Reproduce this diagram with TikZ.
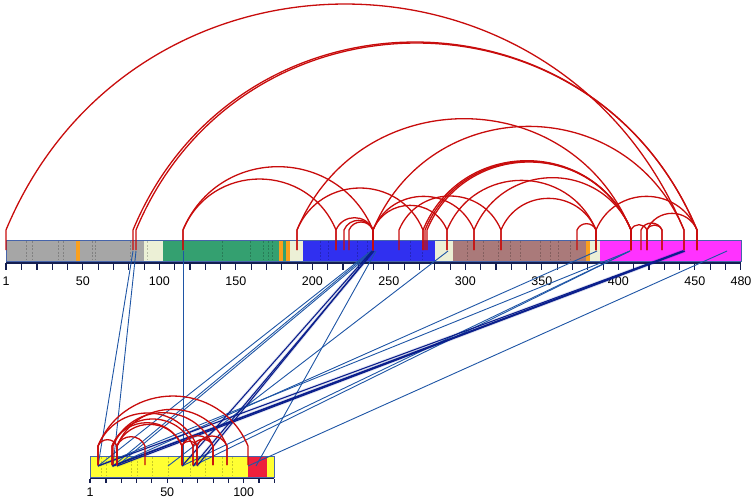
\documentclass[tikz,border=0pt]{standalone}
\usepackage{fontspec}
\setmainfont{Liberation Sans}
\definecolor{linkred}{RGB}{200,12,12}
\definecolor{linkblue}{RGB}{30,85,165}
\definecolor{bundleblue}{RGB}{10,30,140}
\definecolor{frameblue}{RGB}{70,100,170}
\definecolor{axisblue}{RGB}{20,30,80}
\definecolor{cgray}{RGB}{166,166,166}
\definecolor{corange}{RGB}{250,160,30}
\definecolor{cbeige}{RGB}{236,240,214}
\definecolor{cgreen}{RGB}{52,160,112}
\definecolor{cblue}{RGB}{48,48,240}
\definecolor{cbrown}{RGB}{170,122,122}
\definecolor{cmagenta}{RGB}{255,50,255}
\definecolor{cyellow}{RGB}{255,255,50}
\definecolor{cred}{RGB}{238,32,60}
\begin{document}
\begin{tikzpicture}[x=1pt,y=-1pt,
  xlink/.style={draw=linkred,line width=1.3pt,line join=round},
  ilink/.style={draw=linkblue,line width=0.9pt},
  bundle/.style={draw=bundleblue,line width=1.1pt},
  halo/.style={draw=bundleblue,line width=3pt,opacity=0.10},
  barframe/.style={draw=frameblue,line width=1pt},
  axisline/.style={draw=axisblue,line width=1.1pt},
  pepline/.style={draw=black,opacity=0.22,dashed,line width=0.6pt,dash pattern=on 2pt off 1.5pt},
  lbl/.style={font=\fontsize{12.5}{14}\selectfont,inner sep=0pt}]
\useasboundingbox (0,0) rectangle (754,499);

% ---------------- top protein bar ----------------
\fill[cgray]    (6,240) rectangle (144,261);
\fill[corange]  (76,240) rectangle (80,261);
\fill[cbeige]   (144,240) rectangle (163,261);
\fill[cgreen]   (163,240) rectangle (279,261);
\fill[corange]  (279,240) rectangle (283,261);
\fill[cgreen]   (283,240) rectangle (286,261);
\fill[corange]  (286,240) rectangle (290,261);
\fill[cbeige]   (290,240) rectangle (303,261);
\fill[cblue]    (303,240) rectangle (435,261);
\fill[cbeige]   (435,240) rectangle (453,261);
\fill[cbrown]   (453,240) rectangle (586,261);
\fill[corange]  (586,240) rectangle (590,261);
\fill[cbeige]   (590,240) rectangle (600,261);
\fill[cmagenta] (600,240) rectangle (741,261);
\foreach \p in {26,32,58,63,92,95,130,147,222,250,263,268,272,320,328,357,367,410,422,467,483,498,510,520,540,550,558,570}
  \draw[pepline] (\p,241) -- (\p,260);
\draw[barframe] (6,240) rectangle (741,261);
\draw[axisline] (6,263) -- (741,263);
\draw[axisline] (6,263) -- (6,270);
\foreach \k in {1,...,48} \draw[axisline] ({6.4+15.3*\k},263) -- ++(0,7);
\node[lbl] (t1) at (6,281) {1};
\foreach \v in {50,100,...,450} \node[lbl] (t\v) at ({6.4+1.53*\v},281) {\v};
\node[lbl] (t480) at (741,281) {480};

% ---------------- bottom protein bar ----------------
\fill[cyellow] (90,456) rectangle (274,477);
\fill[cred]    (248,456) rectangle (267,477);
\foreach \p in {101,106,131,137,152,168,190,205,222,232}
  \draw[pepline] (\p,457) -- (\p,476);
\draw[barframe] (90,456) rectangle (274,477);
\draw[axisline] (90,478.5) -- (274,478.5);
\draw[axisline] (90,478.5) -- (90,483);
\foreach \k in {1,...,12} \draw[axisline] ({90.7+15.3*\k},478.5) -- ++(0,4.5);
\node[lbl] (b1) at (90,492) {1};
\node[lbl] (b50) at (167.2,492) {50};
\node[lbl] (b100) at (243.7,492) {100};

% ---------------- inter-protein links (blue) ----------------
\foreach \a/\b in {372/182,374/193,373/197,683/98,683/112,684/117,685/113}
  \draw[halo] (\a,251) -- (\b,466);
\foreach \a/\b in {133/98,136/113,183/183,376/256,448/168,597/113,630/98,630/182,630/193,727/248,371/98,372/113,374/117}
  \draw[ilink] (\a,251) -- (\b,466);
\foreach \a/\b in {372/182,374/193,373/197,683/98,683/112,684/117,685/113}
  \draw[bundle] (\a,251) -- (\b,466);

% ---------------- self links, top protein (red) ----------------
\foreach \a/\b in {6/684,133/697,136/697,183/336,183/373,297/631,297/423,336/373,344/373,349/373,373/684,423/631,425/631,427/631,373/447,399/501,373/474,447/596,474/631,501/596,577/596,596/697,631/647,647/662,647/697,641/662}{
  \pgfmathsetmacro\arcw{\b-\a}
  \draw[xlink] (\a,250) -- (\a,230) .. controls +({0.1852*\arcw},{-0.4444*\arcw}) and +({-0.1852*\arcw},{-0.4444*\arcw}) .. (\b,230) -- (\b,250);
}

% ---------------- self links, bottom protein (red) ----------------
\foreach \a/\b in {98/117,98/197,98/248,112/193,113/213,117/145,117/227,117/182,182/213,193/213,197/227,182/197,112/182}{
  \pgfmathsetmacro\arcw{\b-\a}
  \draw[xlink] (\a,465) -- (\a,446) .. controls +({0.1852*\arcw},{-0.4444*\arcw}) and +({-0.1852*\arcw},{-0.4444*\arcw}) .. (\b,446) -- (\b,465);
}
\end{tikzpicture}
\end{document}
